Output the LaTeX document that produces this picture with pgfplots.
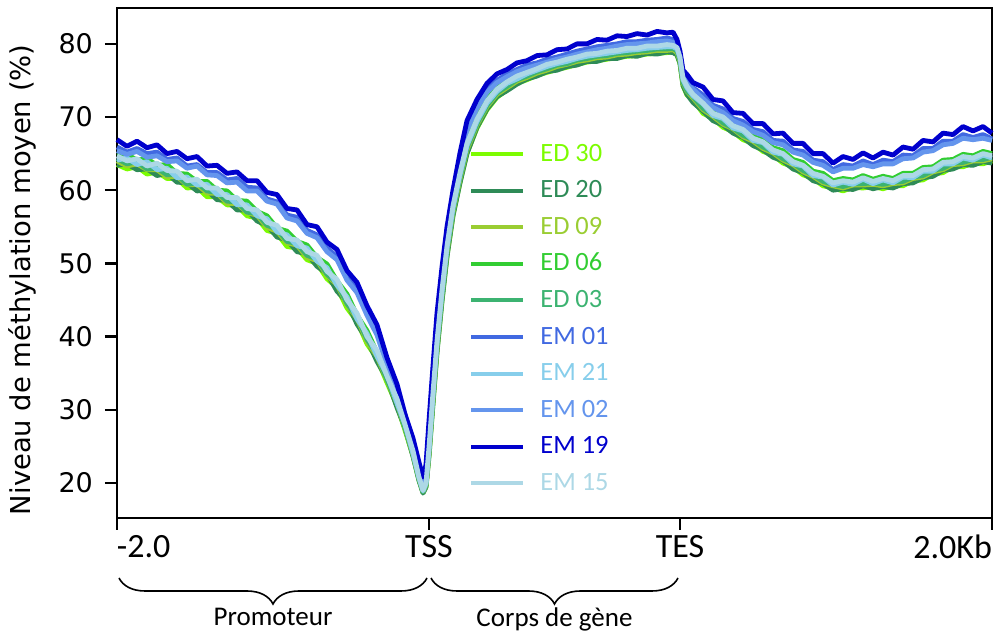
\documentclass[border=0pt]{standalone}
\usepackage{pgfplots}
\pgfplotsset{compat=1.18}
\usepackage{pgfplotstable}
\usepackage{fontspec}
\setmainfont{DejaVu Sans}
\newfontfamily\carlito{Carlito}
\usetikzlibrary{decorations.pathreplacing}

\definecolor{cED30}{RGB}{124,252,0}
\definecolor{cED20}{RGB}{46,139,87}
\definecolor{cED09}{RGB}{154,205,50}
\definecolor{cED06}{RGB}{50,205,50}
\definecolor{cED03}{RGB}{60,179,113}
\definecolor{cEM01}{RGB}{65,105,225}
\definecolor{cEM21}{RGB}{135,206,235}
\definecolor{cEM02}{RGB}{100,149,237}
\definecolor{cEM19}{RGB}{0,0,205}
\definecolor{cEM15}{RGB}{173,216,230}

\pgfplotstableread{
X ED30 ED20 ED09 ED06 ED03 EM01 EM21 EM02 EM19 EM15
0 63.5 63.4 64.0 64.7 64.3 65.9 64.1 65.4 66.9 64.7
10 62.9 63.6 63.3 64.9 63.6 65.2 64.4 64.9 66.0 64.0
20 63.2 62.8 63.6 64.1 63.9 65.7 63.5 65.3 66.7 64.3
30 62.2 62.9 62.8 64.3 62.9 65.0 63.9 64.5 65.8 63.3
40 62.5 62.0 62.8 63.4 63.0 65.2 62.8 64.7 66.2 63.7
50 61.6 62.3 61.8 63.5 62.1 64.2 63.0 63.9 65.0 62.7
60 61.6 61.1 61.9 62.3 62.1 64.4 61.7 64.0 65.3 62.6
70 60.3 61.0 60.7 62.2 60.8 63.3 61.8 63.0 64.3 61.3
80 60.4 59.9 60.8 61.2 61.0 63.5 60.7 63.3 64.6 61.5
90 59.1 60.0 59.6 61.2 59.9 62.4 60.8 62.1 63.3 60.3
100 59.1 58.7 59.6 60.0 59.7 62.4 59.4 62.0 63.4 60.3
110 58.0 58.6 58.2 59.9 58.5 61.4 59.4 61.0 62.3 59.0
120 57.9 57.3 58.2 58.6 58.4 61.6 58.0 61.1 62.5 59.0
130 56.5 57.3 56.9 58.5 57.0 60.4 58.0 59.9 61.3 57.5
140 56.2 55.8 56.6 57.1 56.8 60.3 56.5 59.9 61.3 57.3
150 54.5 55.2 54.9 56.5 55.2 58.8 56.1 58.5 59.7 55.6
160 54.1 53.6 54.4 54.8 54.7 58.4 54.3 58.1 59.4 55.2
170 52.3 53.2 52.8 54.4 53.0 56.6 53.9 56.2 57.5 53.4
180 52.1 51.6 52.5 53.0 52.7 56.3 52.4 55.8 57.3 53.2
190 50.5 51.3 50.8 52.5 51.1 54.5 52.1 54.1 55.3 51.6
200 50.0 49.6 50.4 50.8 50.6 53.9 50.3 53.5 55.0 51.1
210 47.9 48.6 48.3 49.9 48.5 52.1 49.4 51.6 52.9 48.9
220 46.7 46.2 47.1 47.6 47.3 50.9 47.0 50.5 51.9 47.8
230 43.9 44.7 44.3 45.8 44.5 48.1 45.4 47.7 49.0 45.0
240 42.1 41.7 42.5 42.9 42.7 46.4 42.4 46.0 47.4 43.2
250 39.0 39.6 39.3 40.8 39.6 43.3 40.4 42.9 44.2 40.0
260 37.0 36.6 37.3 37.8 37.6 40.6 37.3 40.2 41.6 38.1
270 33.7 34.2 34.0 35.1 34.1 36.4 34.8 36.1 37.1 34.6
280 30.6 30.3 30.9 31.2 31.0 32.8 30.9 32.4 33.5 31.5
288 27.2 27.5 27.4 28.3 27.5 28.8 28.0 28.6 29.4 28.0
296 23.7 23.6 23.9 24.3 24.0 25.4 24.0 25.1 26.1 24.4
302 20.4 20.3 20.5 20.9 20.5 22.0 20.7 21.6 22.8 20.8
306 18.7 18.6 18.8 19.2 18.8 19.9 18.9 19.6 20.8 19.0
309 19.5 19.4 19.6 20.2 19.7 21.6 19.9 21.2 22.5 20.0
312 23.8 23.6 24.1 25.3 24.3 27.4 24.6 26.8 28.5 24.9
316 31.0 30.8 31.4 33.0 31.7 35.0 32.1 34.4 36.0 32.4
320 38.0 37.8 38.4 40.0 38.7 42.2 39.1 41.5 43.2 39.4
325 45.0 44.8 45.5 46.8 45.7 48.6 46.1 48.0 49.5 46.4
330 51.0 50.9 51.5 52.8 51.8 54.2 52.1 53.7 55.0 52.4
336 56.6 56.5 57.0 58.2 57.3 59.3 57.6 58.9 60.0 57.9
343 61.1 61.0 61.5 62.7 61.8 64.3 62.1 63.8 65.1 62.4
350 65.1 65.0 65.5 66.7 65.8 68.7 66.1 68.2 69.5 66.4
360 68.5 68.6 68.9 69.9 69.1 71.6 69.4 71.2 72.4 69.7
370 71.0 71.1 71.4 72.4 71.6 73.8 71.9 73.4 74.6 72.2
380 72.7 72.8 73.1 74.0 73.3 75.0 73.5 74.7 75.9 73.8
390 73.7 73.6 74.0 75.0 74.2 75.9 74.6 75.5 76.5 74.8
400 74.6 74.5 74.9 75.7 75.1 76.5 75.2 76.2 77.4 75.6
410 75.1 75.2 75.4 76.4 75.6 77.1 75.9 76.7 77.7 76.1
420 75.7 75.6 76.0 76.8 76.2 77.4 76.4 77.1 78.4 76.6
430 76.1 76.2 76.4 77.4 76.6 77.9 76.9 77.5 78.5 77.2
440 76.5 76.4 76.9 77.7 77.1 78.2 77.3 77.9 79.2 77.5
450 76.8 76.9 77.2 78.1 77.3 78.6 77.6 78.2 79.3 77.9
460 77.2 77.1 77.6 78.4 77.8 79.0 78.0 78.6 80.0 78.2
470 77.5 77.6 77.8 78.8 78.0 79.3 78.3 78.9 80.0 78.6
480 77.7 77.6 78.1 78.9 78.3 79.6 78.5 79.2 80.6 78.7
490 77.9 78.0 78.2 79.2 78.4 79.8 78.7 79.4 80.5 79.0
500 78.1 78.0 78.5 79.3 78.7 80.0 78.9 79.7 81.1 79.1
510 78.3 78.4 78.6 79.6 78.8 80.3 79.1 79.9 81.0 79.4
520 78.4 78.3 78.8 79.6 79.0 80.3 79.2 80.0 81.4 79.4
530 78.6 78.7 78.9 79.9 79.1 80.5 79.4 80.1 81.2 79.7
540 78.7 78.6 79.1 79.9 79.3 80.6 79.5 80.3 81.7 79.7
550 78.8 78.9 79.1 80.1 79.3 80.8 79.6 80.4 81.5 79.9
556 78.9 78.8 79.2 80.0 79.4 80.6 79.6 80.2 81.6 79.8
560 78.5 78.5 78.8 79.7 79.0 79.9 79.3 79.6 80.6 79.5
563 77.3 77.3 77.6 78.4 77.8 78.5 78.1 78.3 79.0 78.2
566 74.3 74.3 74.6 75.5 74.8 75.8 75.1 75.5 76.4 75.3
570 73.0 73.1 73.5 74.5 73.6 74.9 74.0 74.5 75.8 74.2
576 72.4 72.0 72.6 73.4 72.8 74.0 72.9 73.8 74.7 73.1
586 70.5 70.8 71.0 72.3 71.2 73.0 71.8 72.5 74.1 71.9
596 69.8 69.5 70.1 70.9 70.3 71.6 70.2 71.3 72.4 70.5
606 68.6 68.9 69.0 70.3 69.2 71.1 69.8 70.6 72.2 70.0
616 68.0 67.8 68.4 69.2 68.5 69.8 68.5 69.5 70.6 68.8
626 66.9 67.2 67.3 68.6 67.5 69.4 68.1 68.9 70.5 68.3
636 66.4 66.1 66.7 67.4 66.9 68.3 66.8 68.0 69.1 67.1
646 65.3 65.5 65.7 67.0 65.9 68.0 66.5 67.5 69.1 66.6
656 64.8 64.5 65.1 65.8 65.3 66.8 65.2 66.5 67.7 65.5
666 63.7 64.0 64.1 65.4 64.3 66.7 64.9 66.2 67.8 65.0
676 63.2 62.9 63.5 64.2 63.7 65.5 63.6 65.2 66.4 63.9
686 62.1 62.4 62.5 63.8 62.7 65.3 63.3 64.8 66.4 63.4
696 61.6 61.3 61.9 62.6 62.1 64.1 62.0 63.8 65.0 62.3
706 60.6 60.9 61.0 62.3 61.2 63.9 61.8 63.4 65.0 61.9
716 60.3 60.0 60.6 61.3 60.8 62.8 60.7 62.5 63.7 61.0
726 59.9 60.2 60.3 61.6 60.5 63.5 61.1 63.0 64.6 61.3
736 60.4 60.1 60.7 61.4 60.9 63.3 60.8 63.0 64.2 61.1
746 60.3 60.6 60.7 62.0 60.9 64.0 61.5 63.5 65.1 61.7
756 60.5 60.2 60.8 61.5 61.0 63.5 60.9 63.2 64.4 61.2
766 60.2 60.5 60.6 61.9 60.8 64.1 61.4 63.6 65.2 61.6
776 60.6 60.3 60.9 61.6 61.1 63.9 61.0 63.6 64.8 61.3
786 60.6 60.9 61.0 62.3 61.2 64.8 61.8 64.3 65.9 62.0
796 61.3 61.0 61.6 62.3 61.8 64.7 61.7 64.4 65.6 62.0
806 61.4 61.7 61.8 63.1 62.0 65.7 62.6 65.2 66.8 62.8
816 62.2 61.9 62.5 63.2 62.7 65.7 62.6 65.4 66.6 62.9
826 62.4 62.7 62.8 64.1 63.0 66.7 63.6 66.2 67.8 63.8
836 63.2 62.9 63.5 64.2 63.7 66.7 63.6 66.4 67.6 63.9
846 63.2 63.5 63.6 64.9 63.8 67.6 64.4 67.1 68.7 64.6
856 63.7 63.4 64.0 64.7 64.2 67.2 64.1 66.9 68.1 64.4
866 63.6 63.9 64.0 65.3 64.2 67.6 64.8 67.1 68.7 65.0
875 64.0 63.7 64.3 65.0 64.5 67.0 64.4 66.8 67.8 64.7
}\data

\begin{document}
\begin{tikzpicture}
\begin{axis}[
  scale only axis, width=437.5pt, height=255pt,
  xmin=0, xmax=875, ymin=15.2, ymax=84.9,
  axis line style={line width=1.2pt},
  every tick/.style={line width=1.2pt, black},
  tick align=outside, major tick length=6pt,
  xtick pos=bottom, ytick pos=left,
  xtick={0,312,563,875},
  xticklabels={\makebox[0pt][l]{-2.0},TSS,TES,\makebox[0pt][r]{2.0Kb}},
  xticklabel style={font=\carlito\fontsize{17}{19}\selectfont, yshift=1pt},
  ytick={20,30,40,50,60,70,80},
  yticklabel style={font=\fontsize{13.5}{16}\selectfont, xshift=-2.5pt},
  /pgf/number format/assume math mode=true,
  ylabel={Niveau de méthylation moyen (\%)},
  ylabel style={font=\fontsize{13.7}{16}\selectfont, at={(axis description cs:-0.108,0.467)}, anchor=center},
  clip=false,
  every axis plot/.append style={line width=2.4pt, line join=round},
  legend image code/.code={\draw[#1, line width=2pt] (0pt,0pt)--(26pt,0pt);},
  legend style={at={(axis cs:352,66.5)}, anchor=north west, draw=none, fill=none, inner sep=0pt,
    row sep=7.3pt, font=\carlito\fontsize{13.2}{15}\selectfont,
    nodes={inner sep=0pt, text height=9pt, text depth=2pt},
    /tikz/every odd column/.append style={column sep=7.5pt}},
  legend cell align=left,
]
\addplot[cED30] table[x=X, y=ED30]{\data};
\addplot[cED20] table[x=X, y=ED20]{\data};
\addplot[cED09] table[x=X, y=ED09]{\data};
\addplot[cED06] table[x=X, y=ED06]{\data};
\addplot[cED03] table[x=X, y=ED03]{\data};
\addplot[cEM01] table[x=X, y=EM01]{\data};
\addplot[cEM21] table[x=X, y=EM21]{\data};
\addplot[cEM02] table[x=X, y=EM02]{\data};
\addplot[cEM19] table[x=X, y=EM19]{\data};
\addplot[cEM15] table[x=X, y=EM15]{\data};
\legend{\textcolor{cED30}{ED 30},\textcolor{cED20}{ED 20},\textcolor{cED09}{ED 09},\textcolor{cED06}{ED 06},\textcolor{cED03}{ED 03},\textcolor{cEM01}{EM 01},\textcolor{cEM21}{EM 21},\textcolor{cEM02}{EM 02},\textcolor{cEM19}{EM 19},\textcolor{cEM15}{EM 15}}
\draw[decorate, decoration={brace, mirror, amplitude=13pt}, line width=0.8pt]
  ([yshift=-30pt]axis cs:2,15.2) -- ([yshift=-30pt]axis cs:310,15.2)
  node[midway, below=14.5pt, inner sep=0pt, font=\carlito\fontsize{13.5}{15}\selectfont]{Promoteur};
\draw[decorate, decoration={brace, mirror, amplitude=13pt}, line width=0.8pt]
  ([yshift=-30pt]axis cs:314,15.2) -- ([yshift=-30pt]axis cs:561,15.2)
  node[midway, below=14.5pt, inner sep=0pt, font=\carlito\fontsize{13.5}{15}\selectfont]{Corps de gène};
\coordinate (bl) at (rel axis cs:0,0);
\coordinate (tr) at (rel axis cs:1,1);
\end{axis}
\pgfresetboundingbox
\path ([shift={(-58.5pt,-58.5pt)}]bl) rectangle ([shift={(1pt,4pt)}]tr);
\end{tikzpicture}
\end{document}
